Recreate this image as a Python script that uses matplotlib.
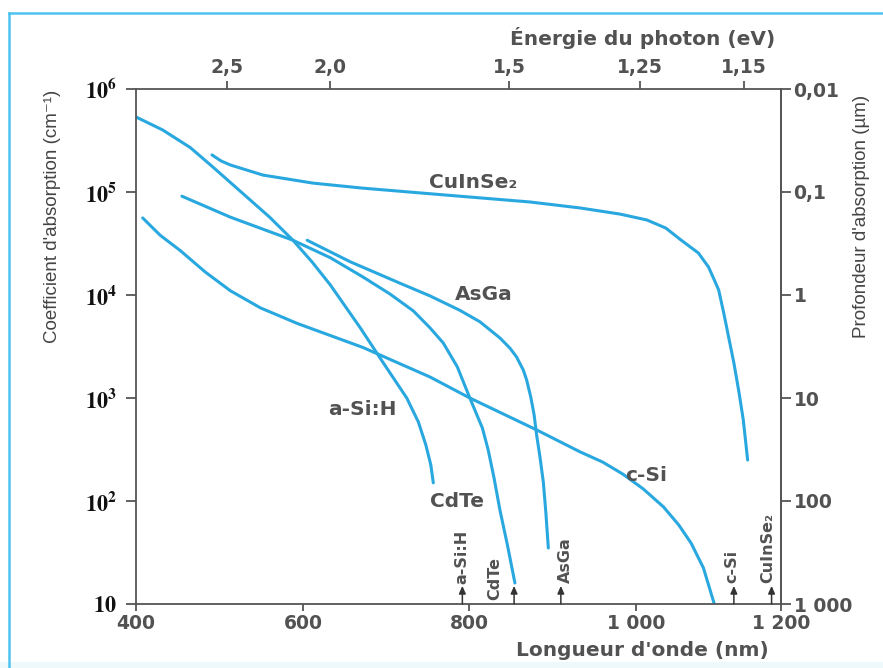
import numpy as np
import matplotlib.pyplot as plt
from matplotlib.lines import Line2D
from matplotlib.patches import Rectangle
from matplotlib.ticker import NullLocator

plt.rcParams['mathtext.fontset'] = 'stix'

# absorption coefficient (cm-1) versus wavelength (nm)
asih_nm = [400, 432, 465, 492, 533, 560, 588, 611, 633, 669, 696, 725, 739, 748, 754, 757]
asih_alpha = [5.35e5, 4.0e5, 2.7e5, 1.75e5, 8.9e4, 5.7e4, 3.4e4, 2.09e4, 1.25e4, 4.8e3,
              2.24e3, 1.0e3, 585, 350, 224, 150]

cdte_nm = [455, 513, 588, 633, 672, 705, 733, 753, 769, 786, 801, 808, 816, 823, 830, 837, 846, 855]
cdte_alpha = [9.1e4, 5.7e4, 3.4e4, 2.3e4, 1.5e4, 1.02e4, 7.0e3, 4.8e3, 3.42e3, 2.0e3,
              1.0e3, 731, 512, 313, 167, 82, 37.4, 16]

asga_nm = [605, 657, 717, 753, 789, 813, 837, 849, 857, 865, 869, 874, 878, 881, 885, 889, 892, 895]
asga_alpha = [3.4e4, 2.1e4, 1.3e4, 9.8e3, 7.1e3, 5.5e3, 3.83e3, 3.05e3, 2.5e3, 1.87e3,
              1.5e3, 1020, 684, 437, 267, 153, 78, 35]

csi_nm = [408, 429, 453, 483, 513, 549, 593, 672, 753, 801, 881, 933, 960, 984, 1010,
          1038, 1059, 1076, 1093, 1108]
csi_alpha = [5.6e4, 3.8e4, 2.7e4, 1.67e4, 1.1e4, 7.5e3, 5.3e3, 3.1e3, 1.6e3, 1.0e3,
             490, 300, 239, 183, 131, 87.5, 58.5, 39, 22.4, 10]

cis_nm = [491, 502, 513, 552, 612, 672, 789, 873, 933, 981, 1015, 1041, 1062, 1086, 1100,
          1108, 1114, 1121, 1128, 1135, 1142, 1148, 1154]
cis_alpha = [2.29e5, 2.0e5, 1.83e5, 1.46e5, 1.22e5, 1.09e5, 9.1e4, 8.0e4, 7.0e4, 6.1e4,
             5.35e4, 4.47e4, 3.42e4, 2.56e4, 1.87e4, 1.4e4, 1.12e4, 6.7e3, 3.83e3,
             2.19e3, 1.14e3, 611, 250]

# band gap wavelengths marked on the wavelength axis
gap_names = ['a-Si:H', 'CdTe', 'AsGa', 'c-Si', 'CuInSe₂']
gap_nm = [792, 854, 910, 1135, 1187]

wl_ticks = [400, 600, 800, 1000, 1200]
wl_labels = ['400', '600', '800', '1 000', '1 200']
energy_labels = ['2,5', '2,0', '1,5', '1,25', '1,15']
energy_nm = [509, 633, 848, 1006, 1149]
alpha_ticks = [10, 1e2, 1e3, 1e4, 1e5, 1e6]
alpha_labels = [r'$\mathbf{10}$', r'$\mathbf{10^2}$', r'$\mathbf{10^3}$',
                r'$\mathbf{10^4}$', r'$\mathbf{10^5}$', r'$\mathbf{10^6}$']
depth_ticks = [0.01, 0.1, 1, 10, 100, 1000]
depth_labels = ['0,01', '0,1', '1', '10', '100', '1 000']

CURVE = '#29a8e0'
TEXT = '#525252'
AXIS = '#555555'
WIDE = ['DejaVu Sans']
PLAIN = ['Liberation Sans', 'DejaVu Sans']

# the wavelength graduations are not evenly spaced
wl_spacing = [0, 167, 333, 500, 645]


def wl_forward(x):
    return np.interp(x, wl_ticks, wl_spacing)


def wl_inverse(p):
    return np.interp(p, wl_spacing, wl_ticks)


def depth_um(alpha):
    alpha = np.maximum(np.asarray(alpha, dtype=float), 1e-300)
    return 1e4 / alpha


fig = plt.figure(figsize=(8.83, 6.68), dpi=100)
ax = fig.add_axes([136 / 883, 64 / 668, 645 / 883, 515 / 668])
ax.set_xscale('function', functions=(wl_forward, wl_inverse))
ax.set_yscale('log')

for nm, alpha in [(asih_nm, asih_alpha), (cdte_nm, cdte_alpha), (asga_nm, asga_alpha),
                  (csi_nm, csi_alpha), (cis_nm, cis_alpha)]:
    ax.plot(nm, alpha, color=CURVE, lw=2.2, solid_capstyle='round', solid_joinstyle='round')

ax.set_xlim(400, 1200)
ax.set_ylim(10, 1e6)

for side in ax.spines:
    ax.spines[side].set_color(AXIS)
    ax.spines[side].set_linewidth(1.3)

ax.set_xticks(wl_ticks, labels=wl_labels, family=WIDE, fontweight='bold',
              fontsize=13.5, color=TEXT)
ax.xaxis.set_minor_locator(NullLocator())
ax.tick_params(axis='x', direction='out', length=5, width=1.3, color=AXIS, pad=2)

ax.set_yticks(alpha_ticks, labels=alpha_labels, fontsize=16, color='#111111')
ax.yaxis.set_minor_locator(NullLocator())
ax.tick_params(axis='y', direction='out', length=7, width=1.3, color=AXIS, pad=7)

ax.set_xlabel("Longueur d'onde (nm)", family=WIDE, fontweight='bold', fontsize=14.5, color=TEXT)
ax.xaxis.set_label_coords((642 - 136) / 645, -(651 - 604) / 515)
ax.xaxis.label.set_va('center')

ax.set_ylabel("Coefficient d'absorption (cm⁻¹)", family=PLAIN, fontsize=13.5, color='#444444')
ax.yaxis.set_label_coords((53 - 136) / 645, (604 - 216) / 515)
ax.yaxis.label.set_va('center')

# photon energy along the top
ax_top = fig.add_axes(ax.get_position(), frameon=False)
ax_top.set_xscale('function', functions=(wl_forward, wl_inverse))
ax_top.set_xlim(400, 1200)
ax_top.set_yticks([])
ax_top.xaxis.tick_top()
ax_top.xaxis.set_label_position('top')
ax_top.set_xticks(energy_nm, labels=energy_labels, family=WIDE, fontweight='bold',
                  fontsize=13.5, color=TEXT)
ax_top.xaxis.set_minor_locator(NullLocator())
ax_top.tick_params(axis='x', direction='out', length=6, width=1.3, color=AXIS, pad=3)
ax_top.set_xlabel('Énergie du photon (eV)', family=WIDE, fontweight='bold', fontsize=14.5, color=TEXT)
ax_top.xaxis.set_label_coords((643 - 136) / 645, 1 + (89 - 38) / 515)
ax_top.xaxis.label.set_va('center')

# absorption depth on the right
sec = ax.secondary_yaxis('right', functions=(depth_um, depth_um))
sec.set_yticks(depth_ticks, labels=depth_labels, family=WIDE, fontweight='bold',
               fontsize=13.5, color=TEXT)
sec.yaxis.set_minor_locator(NullLocator())
sec.tick_params(axis='y', direction='out', length=7, width=1.3, color=AXIS, pad=2)
sec.spines['right'].set_color(AXIS)
sec.spines['right'].set_linewidth(1.3)
sec.set_ylabel("Profondeur d'absorption (µm)", family=PLAIN, fontsize=13.5, color='#444444')
sec.yaxis.set_label_coords((862 - 136) / 645, (604 - 216) / 515, transform=ax.transAxes)
sec.yaxis.label.set_va('center')

# curve names
label_style = dict(family=WIDE, fontweight='bold', fontsize=14.5, color=TEXT,
                   ha='center', va='center')
ax.text(805, 1.25e5, 'CuInSe₂', **label_style)
ax.text(818, 1.0e4, 'AsGa', **label_style)
ax.text(671, 780, 'a-Si:H', **label_style)
ax.text(786, 98, 'CdTe', **label_style)
ax.text(1014, 178, 'c-Si', **label_style)

# band gap arrows with vertical names
name_x = [792, 831, 915, 1132, 1182]
name_y = [15.5, 10.9, 16, 16, 16]
for name, nm, tx, ty in zip(gap_names, gap_nm, name_x, name_y):
    ax.annotate('', xy=(nm, 15), xytext=(nm, 10), annotation_clip=False,
                arrowprops=dict(arrowstyle='-|>,head_length=0.45,head_width=0.2',
                                color='#333333', lw=1.1, shrinkA=0, shrinkB=0))
    ax.text(tx, ty, name, rotation=90, ha='center', va='bottom', family=WIDE,
            fontweight='bold', fontsize=11.5, color=TEXT)

# page frame
frame = '#4fc3ef'
fig.add_artist(Rectangle((0, 0), 1, 6 / 668, transform=fig.transFigure,
                         color='#eef9fc', lw=0, zorder=0))
fig.add_artist(Line2D([8.5 / 883, 8.5 / 883], [0, 1 - 13 / 668], transform=fig.transFigure,
                      color=frame, lw=1.8))
fig.add_artist(Line2D([8.5 / 883, 1], [1 - 13 / 668, 1 - 13 / 668], transform=fig.transFigure,
                      color=frame, lw=1.8))

fig.savefig('out.png', dpi=100)
